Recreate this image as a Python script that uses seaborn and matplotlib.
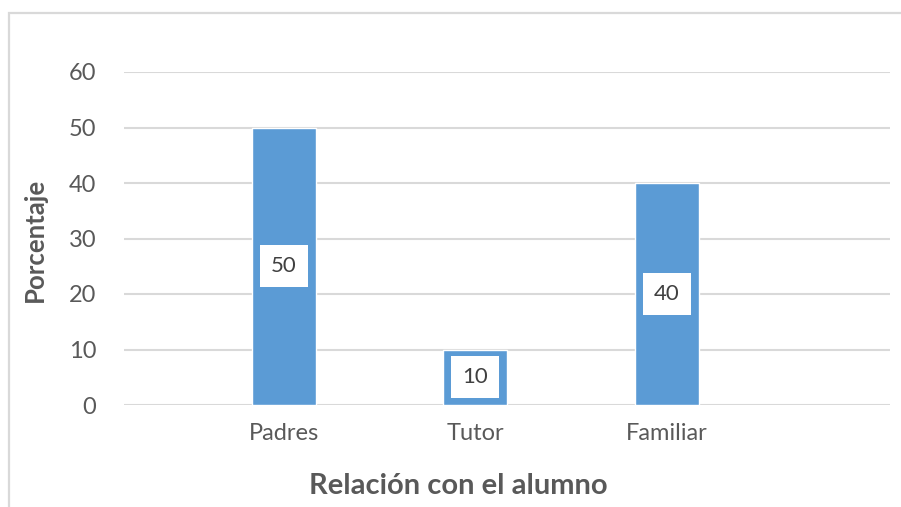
import matplotlib
matplotlib.use("Agg")
import matplotlib.pyplot as plt
from matplotlib.patches import Rectangle
import seaborn as sns
import pandas as pd

categorias = ["Padres", "Tutor", "Familiar"]
porcentajes = [50, 10, 40]
yticks = [0, 10, 20, 30, 40, 50, 60]

sns.set_style("white")
plt.rcParams['font.family'] = ['Lato', 'DejaVu Sans']

data = pd.DataFrame({"Relacion": categorias, "Porcentaje": porcentajes})

fig = plt.figure(figsize=(9.01, 5.07), dpi=100)
ax = fig.add_axes([124/901, 1 - 405/507, (890 - 124)/901, (405 - 72)/507])

sns.barplot(data=data, x="Relacion", y="Porcentaje", color="#5b9bd5",
            saturation=1, width=0.334, ax=ax, zorder=3)

# etiquetas de datos en el centro de cada barra
for i, v in enumerate(porcentajes):
    ax.text(i, v / 2, str(v), ha="center", va="center", fontsize=16,
            color="#404040", zorder=5,
            bbox=dict(boxstyle="square,pad=0.5", fc="white", ec="none"))

ax.set_xlim(-0.835, 3.165)
ax.set_ylim(0, 60)
ax.set_yticks(yticks)
ax.yaxis.grid(True, color="#d9d9d9", linewidth=1.5, zorder=0)
ax.set_axisbelow(True)
sns.despine(ax=ax, left=True, bottom=True, top=True, right=True)
ax.tick_params(axis="y", length=0, pad=20, labelsize=17, labelcolor="#595959")
ax.tick_params(axis="x", length=0, pad=13, labelsize=17, labelcolor="#595959")

ax.set_xlabel("Relación con el alumno", fontsize=21, fontweight="bold",
              color="#595959")
ax.xaxis.label.set_va("center")
ax.xaxis.set_label_coords(0.436, -0.243)
ax.set_ylabel("Porcentaje", fontsize=18.5, fontweight="bold",
              color="#595959")
ax.yaxis.label.set_va("center")
ax.yaxis.set_label_coords(-0.116, 0.495)

# borde del area del grafico
fig.add_artist(Rectangle((9/901, -0.1), 1.2, 1 - 13/507 + 0.1,
                         transform=fig.transFigure, fill=False,
                         ec="#d9d9d9", lw=1.6))

fig.savefig("out.png", dpi=100)
